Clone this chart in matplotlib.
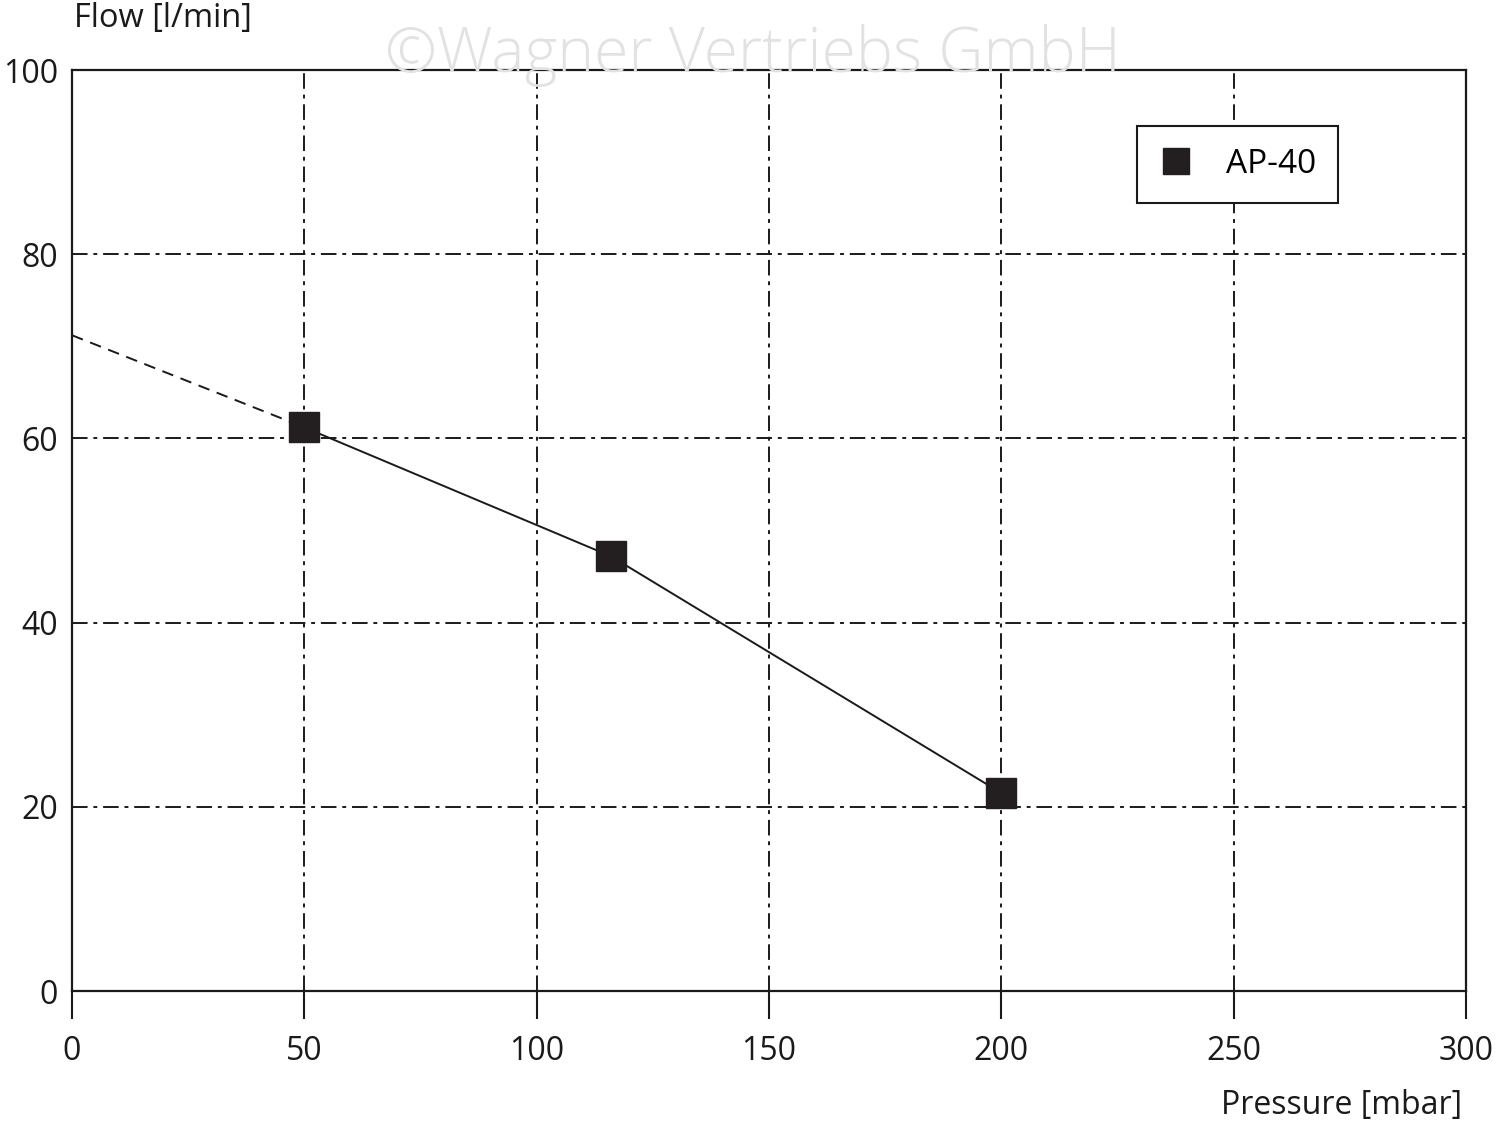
import matplotlib
matplotlib.use("Agg")
import matplotlib.pyplot as plt

pressure = [50, 116, 200]
flow = [61.2, 47.2, 21.5]
ext_pressure = [0, 50]
ext_flow = [71.2, 61.2]
xticks = [0, 50, 100, 150, 200, 250, 300]
yticks = [0, 20, 40, 60, 80, 100]

plt.rcParams['font.family'] = ['Open Sans', 'DejaVu Sans']

fig = plt.figure(figsize=(15, 11.33), dpi=100)
ax = fig.add_axes([0.048, 0.1253, 0.9293, 0.8129])
ax.set_xlim(0, 300)
ax.set_ylim(0, 100)
ax.set_xticks(xticks)
ax.set_yticks(yticks)
ax.tick_params(axis='x', direction='out', length=20, width=1.5, labelsize=23, pad=12, colors='#1a1a1a')
ax.tick_params(axis='y', length=0, labelsize=23, pad=10, colors='#1a1a1a')
ax.grid(True, color='#1a1a1a', linestyle=(0, (8, 3, 2, 3)), linewidth=1.4)
for s in ax.spines.values():
    s.set_linewidth(1.6)
    s.set_color('#1a1a1a')

ax.plot(ext_pressure, ext_flow, color='#1a1a1a', linestyle=(0, (6, 4)), linewidth=1.4, zorder=3)
ax.plot(pressure, flow, color='#1a1a1a', linewidth=1.4, marker='s', markersize=22,
        markerfacecolor='#231f20', markeredgecolor='#231f20', label='AP-40', zorder=4)

leg = ax.legend(loc='upper right', bbox_to_anchor=(0.908, 0.939), borderaxespad=0, fontsize=24,
                frameon=True, fancybox=False, edgecolor='#1a1a1a', borderpad=0.65,
                handlelength=1.0, handletextpad=1.0, markerscale=0.85)
leg.get_frame().set_linewidth(1.5)
leg.get_frame().set_alpha(1)
for line in leg.get_lines():
    line.set_linestyle('None')

fig.text(0.049, 0.984, 'Flow [l/min]', fontsize=23.5, ha='left', va='center', color='#1a1a1a')
fig.text(0.975, 0.024, 'Pressure [mbar]', fontsize=23, ha='right', va='center', color='#1a1a1a')
fig.text(0.502, 0.951, '©Wagner Vertriebs GmbH', fontsize=45, ha='center', va='center',
         color='#e2e2e2', fontweight='light', zorder=0)

fig.savefig('out.png', dpi=100, facecolor='white')
